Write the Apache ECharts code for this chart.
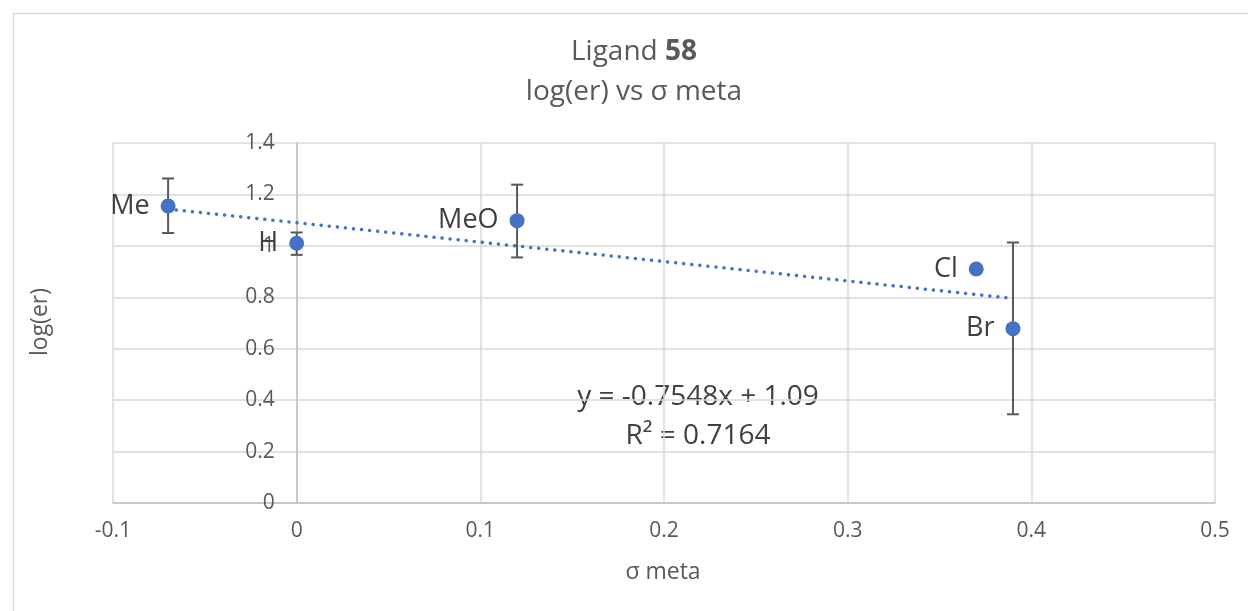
<!DOCTYPE html>
<html><head><meta charset="utf-8">
<script src="https://cdn.jsdelivr.net/npm/echarts@6/dist/echarts.min.js"></script>
<style>html,body{margin:0;padding:0;background:#fff}#c{width:1248px;height:611px}</style>
</head><body><div id="c"></div>
<script>
const labels = ['Me', 'H', 'MeO', 'Cl', 'Br'];
const sigmaMeta = [-0.07, 0, 0.12, 0.37, 0.39];
const logEr = [1.155, 1.010, 1.098, 0.910, 0.678];
const errLow = [1.050, 0.965, 0.955, null, 0.345];
const errHigh = [1.262, 1.052, 1.238, null, 1.013];
const trendX = [-0.07, 0.39];
const trendY = [1.1428, 0.7956];
const xTicks = [-0.1, 0, 0.1, 0.2, 0.3, 0.4, 0.5];
const yTicks = [0, 0.2, 0.4, 0.6, 0.8, 1, 1.2, 1.4];

const FONT = 'Open Sans, Liberation Sans, sans-serif';
const blue = '#4472C4';
const GRID = { left: 113, right: 33, top: 143, bottom: 108 };
const plotW = 1248 - GRID.left - GRID.right;
const xMin = xTicks[0], xMax = xTicks[xTicks.length - 1];
const yAxisOffset = -((0 - xMin) / (xMax - xMin)) * plotW;

const points = sigmaMeta.map((x, i) => ({ value: [x, logEr[i]], name: labels[i] }));
const errData = [];
sigmaMeta.forEach((x, i) => { if (errLow[i] != null) errData.push([x, errLow[i], errHigh[i]]); });

const chart = echarts.init(document.getElementById('c'));
chart.setOption({
  animation: false,
  backgroundColor: '#fff',
  grid: GRID,
  xAxis: {
    type: 'value', min: xMin, max: xMax, interval: 0.1,
    axisLine: { show: true, onZero: false, lineStyle: { color: '#bfbfbf', width: 1.5 } },
    axisTick: { show: false },
    splitLine: { show: true, lineStyle: { color: '#d9d9d9', width: 1.5 } },
    axisLabel: { color: '#595959', fontFamily: FONT, fontSize: 21, margin: 18 }
  },
  yAxis: {
    type: 'value', min: yTicks[0], max: yTicks[yTicks.length - 1], interval: 0.2,
    position: 'left', offset: yAxisOffset,
    axisLine: { show: true, onZero: false, lineStyle: { color: '#bfbfbf', width: 1.5 } },
    axisTick: { show: false },
    splitLine: { show: true, lineStyle: { color: '#d9d9d9', width: 1.5 } },
    axisLabel: { color: '#595959', fontFamily: FONT, fontSize: 21, margin: 22 }
  },
  graphic: [
    { type: 'rect', left: 11, top: 11, shape: { width: 1260, height: 620 }, style: { fill: 'none', stroke: '#d9d9d9', lineWidth: 1.5 }, z: -10 },
    { type: 'text', x: 634, y: 52, style: { text: '{n|Ligand }{b|58}', align: 'center', verticalAlign: 'middle', rich: { n: { fontFamily: FONT, fontSize: 28, fill: '#595959' }, b: { fontFamily: FONT, fontSize: 28, fontWeight: 'bold', fill: '#595959' } } } },
    { type: 'text', x: 634, y: 92, style: { text: 'log(er) vs σ meta', fontFamily: FONT, fontSize: 28, fill: '#595959', align: 'center', verticalAlign: 'middle' } },
    { type: 'text', x: 663, y: 572, style: { text: 'σ meta', fontFamily: FONT, fontSize: 23, fill: '#595959', align: 'center', verticalAlign: 'middle' } },
    { type: 'text', x: 40, y: 322, rotation: Math.PI / 2, style: { text: 'log(er)', fontFamily: FONT, fontSize: 23, fill: '#595959', align: 'center', verticalAlign: 'middle' } },
    { type: 'text', x: 698, y: 397, style: { text: 'y = -0.7548x + 1.09', fontFamily: FONT, fontSize: 28, fill: '#404040', align: 'center', verticalAlign: 'middle' } },
    { type: 'text', x: 698, y: 436, style: { text: 'R² = 0.7164', fontFamily: FONT, fontSize: 28, fill: '#404040', align: 'center', verticalAlign: 'middle' } }
  ],
  series: [
    {
      type: 'line', data: trendX.map((x, i) => [x, trendY[i]]), symbol: 'none', z: 2,
      lineStyle: { color: blue, width: 3.5, type: [0.1, 8], cap: 'round' }
    },
    {
      type: 'custom', data: errData, z: 3,
      renderItem: function (params, api) {
        const x = api.value(0);
        const lo = api.coord([x, api.value(1)]);
        const hi = api.coord([x, api.value(2)]);
        const w = 6;
        const st = { stroke: '#595959', lineWidth: 2 };
        return { type: 'group', children: [
          { type: 'line', shape: { x1: lo[0], y1: lo[1], x2: hi[0], y2: hi[1] }, style: st },
          { type: 'line', shape: { x1: lo[0] - w, y1: lo[1], x2: lo[0] + w, y2: lo[1] }, style: st },
          { type: 'line', shape: { x1: hi[0] - w, y1: hi[1], x2: hi[0] + w, y2: hi[1] }, style: st }
        ] };
      }
    },
    {
      type: 'scatter', data: points, symbol: 'circle', symbolSize: 15, z: 4,
      itemStyle: { color: blue, opacity: 1 },
      label: { show: true, position: 'left', distance: 11, formatter: p => p.name, fontFamily: FONT, fontSize: 27, color: '#404040' }
    }
  ]
});
</script></body></html>
